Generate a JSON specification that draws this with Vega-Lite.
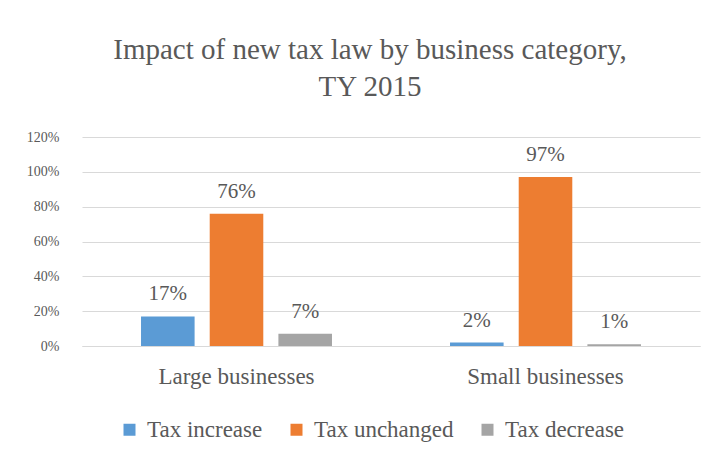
{
  "$schema": "https://vega.github.io/schema/vega-lite/v6.json",
  "width": 618,
  "height": 209,
  "autosize": "none",
  "padding": {"left": 82, "top": 137, "right": 17, "bottom": 114},
  "background": "white",
  "title": {
    "text": ["Impact of new tax law by business category,", "TY 2015"],
    "font": "Liberation Serif",
    "fontSize": 29,
    "fontWeight": "normal",
    "color": "#595959",
    "anchor": "middle",
    "frame": "group",
    "lineHeight": 37,
    "offset": 28,
    "dx": -21
  },
  "data": {
    "values": [
      {"category": "Large businesses", "impact": "Tax increase", "share": 0.17},
      {"category": "Large businesses", "impact": "Tax unchanged", "share": 0.76},
      {"category": "Large businesses", "impact": "Tax decrease", "share": 0.07},
      {"category": "Small businesses", "impact": "Tax increase", "share": 0.02},
      {"category": "Small businesses", "impact": "Tax unchanged", "share": 0.97},
      {"category": "Small businesses", "impact": "Tax decrease", "share": 0.01}
    ]
  },
  "encoding": {
    "x": {
      "field": "category",
      "type": "nominal",
      "title": null,
      "scale": {"paddingInner": 0.382, "paddingOuter": 0.191},
      "axis": {
        "labelAngle": 0,
        "labelFont": "Liberation Serif",
        "labelFontSize": 23,
        "labelColor": "#595959",
        "labelPadding": 19,
        "ticks": false,
        "domain": true,
        "domainColor": "#D9D9D9",
        "domainWidth": 1
      }
    },
    "xOffset": {
      "field": "impact",
      "type": "nominal",
      "sort": ["Tax increase", "Tax unchanged", "Tax decrease"],
      "scale": {"paddingInner": 0.22, "paddingOuter": 0}
    },
    "y": {
      "field": "share",
      "type": "quantitative",
      "title": null,
      "scale": {"domain": [0, 1.2], "nice": false},
      "axis": {
        "values": [0, 0.2, 0.4, 0.6, 0.8, 1.0, 1.2],
        "format": ".0%",
        "labelFont": "Liberation Serif",
        "labelFontSize": 14,
        "labelColor": "#595959",
        "labelPadding": 23,
        "domain": false,
        "ticks": false,
        "grid": true,
        "gridColor": "#D9D9D9",
        "gridWidth": 1
      }
    }
  },
  "layer": [
    {
      "mark": {"type": "bar"},
      "encoding": {
        "color": {
          "field": "impact",
          "type": "nominal",
          "sort": ["Tax increase", "Tax unchanged", "Tax decrease"],
          "scale": {
            "domain": ["Tax increase", "Tax unchanged", "Tax decrease"],
            "range": ["#5B9BD5", "#ED7D31", "#A5A5A5"]
          },
          "legend": {
            "title": null,
            "orient": "none",
            "direction": "horizontal",
            "legendX": 36,
            "legendY": 281,
            "symbolType": "square",
            "symbolSize": 144,
            "symbolStrokeWidth": 0,
            "labelFont": "Liberation Serif",
            "labelFontSize": 23,
            "labelColor": "#595959",
            "labelOffset": 6,
            "columnPadding": 22,
            "padding": 0
          }
        }
      }
    },
    {
      "mark": {
        "type": "text",
        "baseline": "alphabetic",
        "dy": -16,
        "font": "Liberation Serif",
        "fontSize": 21,
        "color": "#595959"
      },
      "encoding": {
        "text": {"field": "share", "type": "quantitative", "format": ".0%"}
      }
    }
  ],
  "config": {"view": {"stroke": null}}
}
